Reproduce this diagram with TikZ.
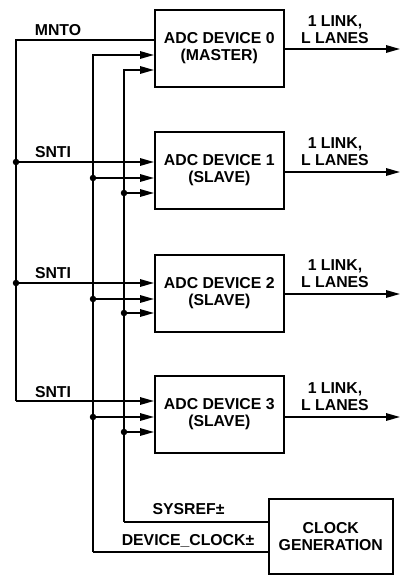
\documentclass[tikz,border=0pt]{standalone}
\usepackage{fontspec}
\setmainfont{Liberation Sans}
\usetikzlibrary{arrows.meta}
\begin{document}
\begin{tikzpicture}[x=1pt,y=-1pt,
  line width=1.5pt,
  font=\fontsize{15.8}{17}\selectfont\bfseries,
  box/.style={draw,line width=1.6pt,inner sep=0pt,align=center,anchor=north west,minimum width=129pt,minimum height=77pt},
  lbl/.style={inner sep=0pt,align=center},
  arr/.style={-{Triangle[length=14pt,width=7.5pt]}},
  dot/.style={circle,fill,inner sep=0pt,minimum size=6.5pt}]
\useasboundingbox (0,0) rectangle (401,575);

% boxes
\node[box] (d0) at (154,9) {ADC DEVICE 0\\(MASTER)};
\node[box] (d1) at (154,131) {ADC DEVICE 1\\(SLAVE)};
\node[box] (d2) at (154,254) {ADC DEVICE 2\\(SLAVE)};
\node[box] (d3) at (154,375) {ADC DEVICE 3\\(SLAVE)};
\node[box,minimum width=124pt,minimum height=75pt] (cg) at (268,498) {CLOCK\\GENERATION};

% bus coordinates
\coordinate (m0) at (16,40);
\coordinate (s1) at (16,162);
\coordinate (s2) at (16,283);
\coordinate (s3) at (16,401);
\coordinate (c0) at (93,55);
\coordinate (c1) at (93,178);
\coordinate (c2) at (93,299);
\coordinate (c3) at (93,417);
\coordinate (cb) at (93,552);
\coordinate (r0) at (124,70);
\coordinate (r1) at (124,193);
\coordinate (r2) at (124,313);
\coordinate (r3) at (124,432);
\coordinate (rb) at (124,522);
\coordinate (o0) at (400,49);
\coordinate (o1) at (400,172);
\coordinate (o2) at (400,294);
\coordinate (o3) at (400,417);

% left MNTO/SNTI bus
\draw (d0.west |- m0) -- (m0) -- (s3);
\draw[arr] (s1) -- (d1.west |- s1);
\draw[arr] (s2) -- (d2.west |- s2);
\draw[arr] (s3) -- (d3.west |- s3);
\node[dot] (ds1) at (s1) {};
\node[dot] (ds2) at (s2) {};

% device clock bus
\draw[arr] (cb) -- (c0) -- (d0.west |- c0);
\draw (cb) -- (cg.west |- cb);
\draw[arr] (c1) -- (d1.west |- c1);
\draw[arr] (c2) -- (d2.west |- c2);
\draw[arr] (c3) -- (d3.west |- c3);
\node[dot] (dc1) at (c1) {};
\node[dot] (dc2) at (c2) {};
\node[dot] (dc3) at (c3) {};

% sysref bus
\draw[arr] (rb) -- (r0) -- (d0.west |- r0);
\draw (rb) -- (cg.west |- rb);
\draw[arr] (r1) -- (d1.west |- r1);
\draw[arr] (r2) -- (d2.west |- r2);
\draw[arr] (r3) -- (d3.west |- r3);
\node[dot] (dr1) at (r1) {};
\node[dot] (dr2) at (r2) {};
\node[dot] (dr3) at (r3) {};

% outputs
\draw[arr] (d0.east |- o0) -- (o0);
\draw[arr] (d1.east |- o1) -- (o1);
\draw[arr] (d2.east |- o2) -- (o2);
\draw[arr] (d3.east |- o3) -- (o3);

% labels
\node[lbl] (lm) at (58,30) {MNTO};
\node[lbl] (l1) at (53,152) {SNTI};
\node[lbl] (l2) at (53,273) {SNTI};
\node[lbl] (l3) at (53,392) {SNTI};
\node[lbl] (ls) at (188.5,509) {SYSREF±};
\node[lbl] (lc) at (188,541) {DEVICE\_CLOCK±};
\node[lbl] (k0) at (335,30) {1 LINK,\\L LANES};
\node[lbl] (k1) at (335,152) {1 LINK,\\L LANES};
\node[lbl] (k2) at (335,274) {1 LINK,\\L LANES};
\node[lbl] (k3) at (335,397) {1 LINK,\\L LANES};
\end{tikzpicture}
\end{document}
